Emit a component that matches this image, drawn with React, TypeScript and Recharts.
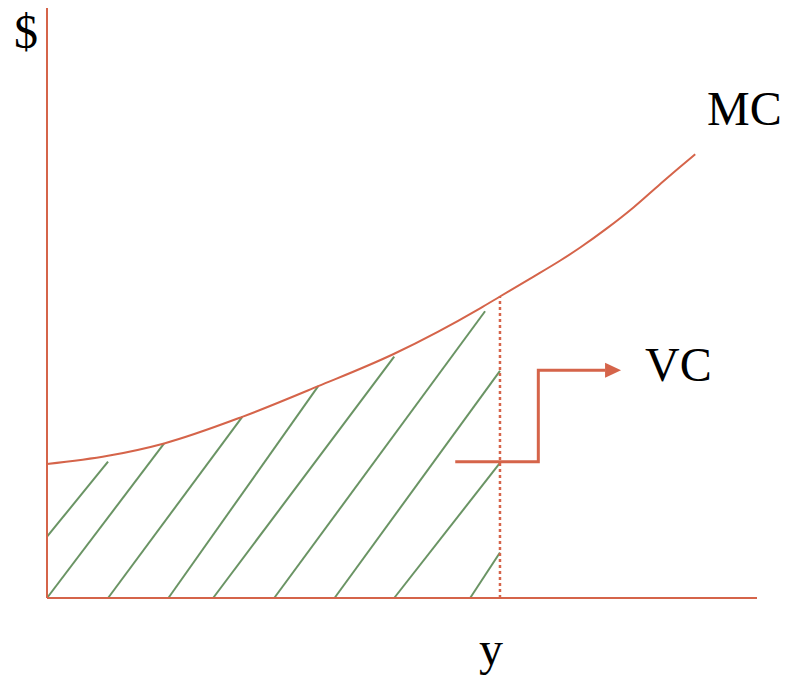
import {
  ComposedChart,
  Line,
  Scatter,
  XAxis,
  YAxis,
  ReferenceLine,
} from "recharts";

// MC curve (x: 0..100 quantity, y: 0..100 $)
const mcX = [0, 8.6, 16.5, 27.5, 38.2, 48.9, 61.0, 63.8, 68.0, 72.3, 75.1, 78.8, 82.6, 86.3, 89.2, 91.3];
const mcY = [22.7, 24.1, 26.2, 30.7, 35.9, 41.4, 49.1, 51.1, 54.1, 57.2, 59.4, 62.6, 66.2, 70.1, 73.1, 75.2];

// chosen output y and MC at y
const yStar = 63.8;
const mcAtY = 51.1;

// hatch strokes under the curve
const hatchFromX = [0, 0, 8.6, 17.1, 23.4, 32.0, 40.5, 48.9, 59.6];
const hatchFromY = [10.4, 0, 0, 0, 0, 0, 0, 0, 0];
const hatchToX = [8.6, 16.5, 27.5, 38.2, 48.9, 61.7, 63.8, 63.8, 63.8];
const hatchToY = [23.1, 26.2, 30.7, 35.9, 40.9, 48.6, 38.5, 22.9, 7.7];

// elbow arrow pointing at the VC label
const arrowX = [57.5, 69.2, 69.2, 78.6];
const arrowY = [23.1, 23.1, 38.6, 38.6];

const labels = ["$", "MC", "VC", "y"];

const ORANGE = "#d5644a";
const GREEN = "#6a9464";

const mcData = mcX.map((x, i) => ({ x, y: mcY[i] }));
const arrowData = arrowX.map((x, i) => ({ x, y: arrowY[i] }));
const headData = [{ x: arrowX[3], y: arrowY[3] }];

const ArrowHead = (props: any) => {
  const { cx, cy } = props;
  return (
    <polygon
      points={`${cx},${cy - 7.5} ${cx + 16},${cy} ${cx},${cy + 7.5}`}
      fill={ORANGE}
    />
  );
};

export default function App() {
  const font = "'Liberation Serif', 'Times New Roman', serif";
  return (
    <div style={{ position: "absolute", left: 0, top: 0, width: 787, height: 678 }}>
      <ComposedChart
        width={787}
        height={678}
        margin={{ top: 8, right: 30, bottom: 80, left: 47 }}
      >
        <XAxis dataKey="x" type="number" domain={[0, 100]} hide />
        <YAxis dataKey="y" type="number" domain={[0, 100]} hide />

        {hatchFromX.map((x, i) => (
          <ReferenceLine
            key={i}
            segment={[
              { x, y: hatchFromY[i] },
              { x: hatchToX[i], y: hatchToY[i] },
            ]}
            stroke={GREEN}
            strokeWidth={2}
          />
        ))}

        <ReferenceLine
          segment={[
            { x: yStar, y: 0 },
            { x: yStar, y: mcAtY },
          ]}
          stroke={ORANGE}
          strokeWidth={2.5}
          strokeDasharray="3 3"
        />

        <ReferenceLine
          segment={[
            { x: 0, y: 0 },
            { x: 100, y: 0 },
          ]}
          stroke={ORANGE}
          strokeWidth={2}
          ifOverflow="visible"
        />
        <ReferenceLine
          segment={[
            { x: 0, y: 0 },
            { x: 0, y: 100 },
          ]}
          stroke={ORANGE}
          strokeWidth={2}
          ifOverflow="visible"
        />

        <Line
          data={mcData}
          dataKey="y"
          type="monotone"
          stroke={ORANGE}
          strokeWidth={2}
          dot={false}
          isAnimationActive={false}
        />
        <Line
          data={arrowData}
          dataKey="y"
          type="linear"
          stroke={ORANGE}
          strokeWidth={3}
          dot={false}
          isAnimationActive={false}
        />
        <Scatter
          data={headData}
          dataKey="y"
          shape={ArrowHead}
          isAnimationActive={false}
        />
      </ComposedChart>

      <svg
        width={787}
        height={678}
        style={{ position: "absolute", left: 0, top: 0, pointerEvents: "none" }}
      >
        <g fontFamily={font} fontSize={48} fill="#000">
          <text x={14} y={48}>{labels[0]}</text>
          <text x={707} y={125}>{labels[1]}</text>
          <text x={645} y={381}>{labels[2]}</text>
          <text x={479} y={665}>{labels[3]}</text>
        </g>
      </svg>
    </div>
  );
}
